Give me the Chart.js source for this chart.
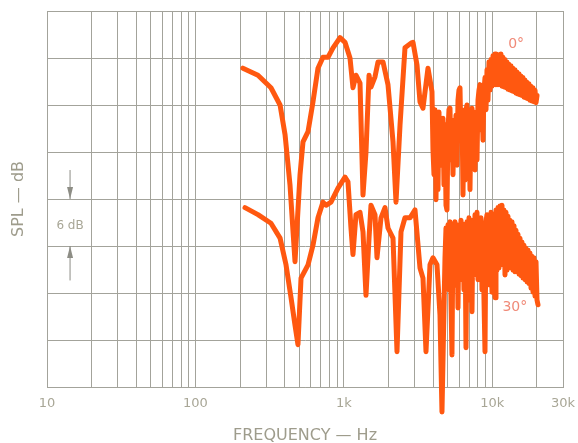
<!DOCTYPE html>
<html>
<head>
<meta charset="utf-8">
<script src="https://cdn.jsdelivr.net/npm/chart.js@4.4.1/dist/chart.umd.min.js"></script>
<style>
  html, body { margin: 0; padding: 0; background: #fff; }
</style>
</head>
<body>
<canvas id="myChart" width="578" height="443"></canvas>
<script>
// frequency grid of the log paper and the labelled ticks
var gridFreqs = [10, 20, 30, 40, 50, 60, 70, 80, 90,
  100, 200, 300, 400, 500, 600, 700, 800, 900,
  1000, 2000, 3000, 4000, 5000, 6000, 7000, 8000, 9000,
  10000, 20000, 30000];
var tickValues = [10, 100, 1000, 10000, 30000];
var tickLabels = ["10", "100", "1k", "10k", "30k"];

// 0 degree response (Hz / dB)
var freq0 = [209, 264, 323, 372, 402, 434, 455, 469, 507, 531, 574, 620, 670, 724, 783, 846, 943, 1019,
  1101, 1153, 1208, 1286, 1347, 1411, 1479, 1525, 1623, 1700, 1838, 1985, 2146, 2248, 2392, 2584,
  2837, 2927, 3114, 3262, 3417, 3693,
  3929, 3990, 4053, 4116, 4181, 4246, 4312, 4380, 4448, 4518, 4588, 4660, 4733, 4807, 4882, 4958,
  5036, 5115, 5195, 5276, 5358, 5442, 5527, 5614, 5702, 5791, 5881, 5973, 6067, 6162, 6258, 6356,
  6455, 6556, 6659, 6763, 6869, 6976, 7085, 7196, 7309, 7423, 7539, 7657, 7777, 7899, 8022, 8148,
  8275, 8405, 8536, 8670, 8805, 8943, 9083, 9225, 9369,
  9516, 9665, 9816, 9970, 10126, 10284, 10445, 10608, 10774, 10943, 11114, 11288, 11464, 11644,
  11826, 12011, 12198, 12389, 12583, 12780, 12980, 13183, 13389, 13598, 13811, 14027, 14246, 14469,
  14695, 14925, 15158, 15395, 15636, 15881, 16129, 16381, 16638, 16898, 17162, 17431, 17703, 17980,
  18261, 18547, 18837, 19132, 19431, 19735, 20043];
var spl0 = [40.7, 39.8, 38.2, 36.0, 32.2, 25.8, 19.8, 16.0, 27.1, 31.3, 32.6, 36.4, 40.7, 42.1, 42.1, 43.3, 44.6, 44.0,
  42.0, 38.2, 39.8, 38.8, 24.5, 30.0, 39.8, 38.3, 39.6, 41.5, 41.5, 38.6, 31.3, 23.6, 33.4, 43.3,
  43.9, 44.0, 41.1, 36.4, 35.6, 40.7,
  37.7, 30.3, 27.1, 35.4, 23.9, 34.3, 25.2, 35.1, 28.3, 32.8, 31.5, 34.3, 25.8, 33.5, 23.2, 22.6,
  32.8, 35.4, 35.6, 29.0, 34.1, 27.1, 33.1, 30.3, 34.7, 28.3, 36.6, 37.9, 38.2, 31.5, 35.4, 24.5,
  34.1, 26.4, 35.4, 36.0, 27.7, 34.7, 25.2, 34.1, 35.6, 30.3, 35.1, 27.7, 33.5, 29.0, 36.6, 37.9,
  38.6, 32.8, 36.6, 31.5, 37.9, 39.5, 35.4, 40.5, 36.6,
  41.5, 37.9, 41.8, 38.4, 42.3, 38.9, 42.5, 38.6, 42.3, 38.6, 42.4, 38.6, 42.5, 38.4,
  42.1, 38.3, 41.8, 38.2, 41.5, 38.0, 41.2, 37.9, 41.0, 37.8, 40.7, 37.7, 40.5, 37.5,
  40.2, 37.4, 40.0, 37.3, 39.7, 37.2, 39.5, 37.0, 39.2, 36.9, 38.9, 36.8, 38.7, 36.6,
  38.4, 36.5, 38.2, 36.4, 37.9, 36.3, 37.2];

// 30 degree response (Hz / dB)
var freq30 = [216, 264, 323, 372, 408, 441, 469, 491, 515, 574, 620, 670, 724, 759, 820, 914, 1019, 1067,
  1118, 1153, 1208, 1286, 1347, 1411, 1479, 1525, 1623, 1674, 1781, 1895, 1985, 2146, 2283, 2429,
  2584, 2793, 3019, 3262, 3417, 3580, 3809, 3990, 4246, 4448, 4588,
  4807, 4882, 4958, 5036, 5115, 5195, 5276, 5358, 5442, 5527, 5614, 5702, 5791, 5881, 5973, 6067,
  6162, 6258, 6356, 6455, 6556, 6659, 6763, 6869, 6976, 7085, 7196, 7309, 7423, 7539, 7657, 7777,
  7899, 8022, 8148, 8275, 8405, 8536, 8670, 8805, 8943, 9083, 9225, 9369, 9516, 9665, 9816, 9970,
  10126, 10284, 10445, 10608, 10774, 10943, 11114, 11288, 11464, 11644, 11826, 12011, 12198, 12389,
  12583, 12780, 12980, 13183, 13389, 13598, 13811, 14027, 14246, 14469, 14695, 14925, 15158, 15395,
  15636, 15881, 16129, 16381, 16638, 16898, 17162, 17431, 17703, 17980, 18261, 18547, 18837, 19132,
  19431, 19735, 20043, 20357];
var spl30 = [22.9, 22.0, 20.9, 19.0, 15.6, 11.4, 7.9, 5.4, 13.9, 15.6, 18.1, 21.6, 23.6, 23.2, 23.6, 25.4, 26.8, 26.2,
  20.3, 16.9, 22.0, 22.3, 19.8, 11.7, 19.0, 23.2, 22.0, 16.5, 21.6, 22.9, 20.3, 19.0, 4.5, 19.8,
  21.6, 21.6, 22.6, 15.2, 13.9, 4.5, 15.6, 16.5, 15.6, 9.2, -3.2,
  16.5, 20.3, 14.9, 20.7, 12.4, 21.1, 11.1, 4.1, 20.0, 13.0, 21.1, 14.9, 20.7, 10.1, 20.3, 13.7,
  21.3, 14.3, 20.8, 12.4, 20.6, 5.0, 21.1, 13.7, 21.6, 11.1, 20.7, 9.6, 21.3, 14.3, 22.0, 14.9,
  22.3, 13.7, 21.1, 15.6, 21.6, 12.4, 20.7, 11.1, 4.5, 21.1, 22.0, 14.3, 21.6, 13.0, 22.3, 12.1,
  22.0, 14.3, 11.4, 22.6, 14.9, 22.9, 15.2, 23.1, 15.6, 23.2, 16.0, 22.6, 14.3, 22.3,
  14.9, 21.8, 15.2, 21.3, 15.2, 21.1, 14.9, 20.6, 14.7, 20.0, 14.7, 19.5, 14.4, 19.0,
  14.2, 18.5, 13.9, 18.1, 13.7, 17.7, 13.4, 17.5, 13.2, 17.1, 12.6, 16.7, 12.1, 16.5,
  11.6, 16.0, 11.1, 10.5];

var curveLabels = [
  { text: "0°", f: 14500, db: 43.8 },
  { text: "30°", f: 14200, db: 10.2 }
];

var lineColor = "rgb(255, 88, 16)";
var gridColor = "#a3a39b";
var textColor = "#a8a696";

function toPoints(fs, vs) {
  return fs.map(function (f, i) { return { x: f, y: vs[i] }; });
}

// curve labels and the "6 dB" scale marker on the left
var annotate = {
  id: "annotate",
  afterDraw: function (chart) {
    var ctx = chart.ctx, x = chart.scales.x, y = chart.scales.y;
    ctx.save();
    ctx.font = '14px "DejaVu Sans"';
    ctx.fillStyle = "#f08a78";
    ctx.textAlign = "center";
    ctx.textBaseline = "middle";
    curveLabels.forEach(function (l) {
      ctx.fillText(l.text, x.getPixelForValue(l.f), y.getPixelForValue(l.db));
    });

    var ax = x.getPixelForValue(14.3);
    ctx.font = '12px "DejaVu Sans"';
    ctx.fillStyle = textColor;
    ctx.fillText("6 dB", ax, y.getPixelForValue(21) + 3);

    ctx.strokeStyle = "#8d8d85";
    ctx.fillStyle = "#8d8d85";
    ctx.lineWidth = 1;
    function arrow(from, to) {
      var y1 = y.getPixelForValue(from), y2 = y.getPixelForValue(to);
      var dir = y2 > y1 ? 1 : -1;
      ctx.beginPath();
      ctx.moveTo(ax, y1);
      ctx.lineTo(ax, y2);
      ctx.stroke();
      ctx.beginPath();
      ctx.moveTo(ax, y2);
      ctx.lineTo(ax - 3, y2 - dir * 12);
      ctx.lineTo(ax + 3, y2 - dir * 12);
      ctx.closePath();
      ctx.fill();
    }
    arrow(27.7, 24);
    arrow(13.6, 18);
    ctx.restore();
  }
};

var ctx = document.getElementById("myChart").getContext("2d");
var myChart = new Chart(ctx, {
  type: "line",
  data: {
    datasets: [
      {
        label: "0°",
        data: toPoints(freq0, spl0),
        borderColor: lineColor,
        borderWidth: 5,
        pointRadius: 0,
        tension: 0,
        borderJoinStyle: "round",
        borderCapStyle: "round",
        clip: false
      },
      {
        label: "30°",
        data: toPoints(freq30, spl30),
        borderColor: lineColor,
        borderWidth: 5,
        pointRadius: 0,
        tension: 0,
        borderJoinStyle: "round",
        borderCapStyle: "round",
        clip: false
      }
    ]
  },
  options: {
    responsive: false,
    animation: false,
    devicePixelRatio: 1,
    layout: { padding: { left: 0, right: 15, top: 11, bottom: 0 } },
    plugins: {
      legend: { display: false },
      tooltip: { enabled: false }
    },
    scales: {
      x: {
        type: "logarithmic",
        min: 10,
        max: 30000,
        afterBuildTicks: function (scale) {
          scale.ticks = gridFreqs.map(function (v) { return { value: v }; });
        },
        afterFit: function (scale) {
          scale.height = 56;
          scale.paddingLeft = 0;
          scale.paddingRight = 0;
        },
        grid: { color: gridColor, lineWidth: 1, drawTicks: false },
        border: { color: gridColor },
        ticks: {
          autoSkip: false,
          maxRotation: 0,
          padding: 9,
          color: textColor,
          font: { family: "DejaVu Sans", size: 13 },
          callback: function (value) {
            var i = tickValues.indexOf(value);
            return i >= 0 ? tickLabels[i] : "";
          }
        },
        title: {
          display: true,
          text: "FREQUENCY — Hz",
          color: "#9e9c8c",
          font: { family: "DejaVu Sans", size: 16, lineHeight: 0.9 },
          padding: { top: 0, bottom: 0 }
        }
      },
      y: {
        min: 0,
        max: 48,
        afterFit: function (scale) { scale.width = 47; },
        grid: { color: gridColor, lineWidth: 1, drawTicks: false },
        border: { color: gridColor },
        ticks: { stepSize: 6, display: false },
        title: {
          display: true,
          text: "SPL — dB",
          color: "#9e9c8c",
          font: { family: "DejaVu Sans", size: 16 },
          padding: { top: 9, bottom: 0 }
        }
      }
    }
  },
  plugins: [annotate]
});
</script>
</body>
</html>
